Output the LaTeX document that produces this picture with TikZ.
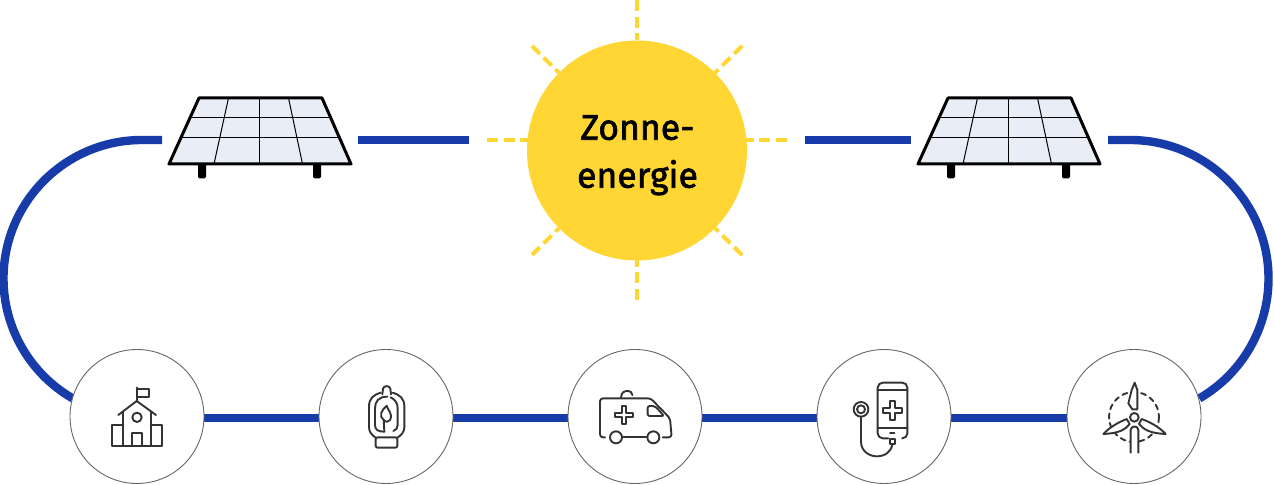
\documentclass[tikz,border=0pt]{standalone}
\usepackage{fontspec}
\setmainfont{Fira Sans}
\newfontfamily\sunfont[RawFeature={embolden=1.8}]{Fira Sans}
\usetikzlibrary{backgrounds}
\definecolor{sunyellow}{HTML}{FFD633}
\definecolor{linkblue}{HTML}{173CAA}
\definecolor{panelfill}{HTML}{E9EDF6}
\definecolor{icongrey}{HTML}{333333}
\tikzset{
  link/.style={draw=linkblue,line width=4.2pt},
  ray/.style={draw=sunyellow,line width=2pt,dash pattern=on 5.5pt off 2.8pt},
  badge/.style={circle,draw=black!60,line width=0.45pt,fill=white,minimum size=67pt,inner sep=0pt,outer sep=0pt},
  icon/.style={draw=icongrey,line width=0.95pt,line join=round,line cap=round},
  panelframe/.style={draw=black,line width=1.5pt,fill=panelfill,line join=round},
  panelgrid/.style={draw=black,line width=0.5pt},
  panelleg/.style={fill=black,rounded corners=0.8pt},
}
\newcommand{\solarpanel}[1]{%
  \begin{scope}[shift={(#1,0)}]
    \fill[panelleg] (29,160) rectangle (37,178.5);
    \fill[panelleg] (144,160) rectangle (152,178.5);
    \draw[panelframe] (30,98) -- (153,98) -- (182,164) -- (0,164) -- cycle;
    \draw[panelgrid] (21.5,117.5) -- (161.5,117.5);
    \draw[panelgrid] (12.5,137.5) -- (170.5,137.5);
    \draw[panelgrid] (90.4,98) -- (90.4,164);
    \draw[panelgrid] (59.5,98) -- (45,164);
    \draw[panelgrid] (119.5,98) -- (133.5,164);
  \end{scope}}
\newcommand{\crossicon}[3]{% centre x, y, half arm
  \draw[icon] (#1-7,#2-#3) -- (#1+7,#2-#3) -- (#1+7,#2-7) -- (#1+#3,#2-7) -- (#1+#3,#2+7) -- (#1+7,#2+7) -- (#1+7,#2+#3) -- (#1-7,#2+#3) -- (#1-7,#2+7) -- (#1-#3,#2+7) -- (#1-#3,#2-7) -- (#1-7,#2-7) -- cycle;}
\begin{document}
\begin{tikzpicture}[x=0.5pt,y=-0.5pt]
\useasboundingbox (0,0) rectangle (1274,485);
% nodes
\node[circle,fill=sunyellow,minimum size=110pt,inner sep=0pt,outer sep=0pt] (sun) at (637,150.5) {};
\node[font=\sunfont\fontsize{17.8}{24}\selectfont,align=center,anchor=base] (sunlabel) at (637.5,187.7) {Zonne-\\energie};
\node[badge] (school) at (137,416.5) {};
\node[badge] (lantern) at (386,416.5) {};
\node[badge] (ambulance) at (635,416.5) {};
\node[badge] (phone) at (884,416.5) {};
\node[badge] (turbine) at (1134,416.5) {};
\solarpanel{169}
\solarpanel{918}
\coordinate (p1w) at (162,140);
\coordinate (p1e) at (358,140);
\coordinate (suninL) at (469,140);
\coordinate (suninR) at (805,140);
\coordinate (p2w) at (911,140);
\coordinate (p2e) at (1108,140);
\coordinate (rayW) at (487,140);
\coordinate (rayE) at (787,140);
\coordinate (rayN) at (637,0);
\coordinate (rayS) at (637,300);
\coordinate (rayNW) at (532,46);
\coordinate (rayNE) at (742,46);
\coordinate (raySW) at (532,255);
\coordinate (raySE) at (742,255);
\begin{pgfonlayer}{background}
  \draw[link] (p1w) -- (142,140) arc (270:120:138.5);
  \draw[link] (p2e) -- (1130,140) arc (-90:60:138.5);
  \draw[link] (p1e) -- (suninL);
  \draw[link] (suninR) -- (p2w);
  \draw[link] ([yshift=-0.75pt]school.east) -- ([yshift=-0.75pt]lantern.west);
  \draw[link] ([yshift=-0.75pt]lantern.east) -- ([yshift=-0.75pt]ambulance.west);
  \draw[link] ([yshift=-0.75pt]ambulance.east) -- ([yshift=-0.75pt]phone.west);
  \draw[link] ([yshift=-0.75pt]phone.east) -- ([yshift=-0.75pt]turbine.west);
  \draw[ray] (rayW) -- (sun.center|-rayW);
  \draw[ray] (rayE) -- (sun.center|-rayE);
  \draw[ray] (rayN) -- (sun);
  \draw[ray] (rayS) -- (sun);
  \draw[ray] (rayNW) -- (sun);
  \draw[ray] (rayNE) -- (sun);
  \draw[ray] (raySW) -- (sun);
  \draw[ray] (raySE) -- (sun);
\end{pgfonlayer}
% school
\begin{scope}[shift={(60,340)},x=0.16667pt,y=-0.16667pt]
  \draw[icon] (230,185) -- (230,143);
  \draw[icon] (230,148) -- (267,148) -- (267,170) -- (232,170);
  \draw[icon] (175,225) -- (230,183) -- (288,225);
  \draw[icon] (190,215) -- (190,318);
  \draw[icon] (272,215) -- (272,318);
  \draw[icon] (190,255) -- (155,255) -- (155,318) -- (307,318) -- (307,255) -- (272,255);
  \draw[icon] (217,318) -- (217,280) -- (245,280) -- (245,318);
  \draw[icon] (231,232) circle[radius=14];
\end{scope}
% lantern
\begin{scope}[shift={(60,340)},x=0.16667pt,y=-0.16667pt]
  \draw[icon] (967,163) -- (969,146) .. controls (970,136) and (990,136) .. (991,146) -- (993,163);
  \draw[icon] (962,158) .. controls (940,165) and (927,175) .. (927,200) -- (927,262) .. controls (927,275) and (935,285) .. (947,293);
  \draw[icon] (998,158) .. controls (1020,165) and (1033,175) .. (1033,200) -- (1033,262) .. controls (1033,275) and (1025,285) .. (1012,293);
  \draw[icon] (982,170) .. controls (955,170) and (945,185) .. (945,205) -- (945,255) .. controls (945,270) and (955,275) .. (973,275);
  \draw[icon] (992,172) .. controls (1005,178) and (1013,190) .. (1013,205) -- (1013,255) .. controls (1013,265) and (1008,270) .. (1000,273);
  \draw[icon] (973,275) -- (971,240) .. controls (955,228) and (965,210) .. (980,197) .. controls (982,210) and (1000,220) .. (990,240) .. controls (985,246) and (978,248) .. (971,240);
  \draw[icon,rounded corners=1pt] (947,292) rectangle (1012,323);
\end{scope}
% ambulance
\begin{scope}[shift={(560,340)},x=0.16667pt,y=-0.16667pt]
  \draw[icon,rounded corners=1.5pt] (135,292) -- (120,292) -- (120,175) -- (272,175) -- (330,235) -- (335,292) -- (308,292);
  \draw[icon] (188,292) -- (262,292);
  \draw[icon] (168,292) circle[radius=18];
  \draw[icon] (280,292) circle[radius=18];
  \draw[icon,rounded corners=1pt] (263,198) -- (285,198) -- (312,228) -- (263,228) -- cycle;
  \crossicon{192}{225}{28}
  \draw[icon] (183,172) .. controls (186,158) and (190,153) .. (198,153) -- (205,153) .. controls (212,153) and (215,158) .. (217,165);
\end{scope}
% phone
\begin{scope}[shift={(560,340)},x=0.16667pt,y=-0.16667pt]
  \draw[icon,rounded corners=2.5pt] (985,295) -- (953,295) -- (953,128) -- (1042,128) -- (1042,295) -- (1028,295);
  \draw[icon] (953,150) -- (1042,150);
  \draw[icon] (953,265) -- (1042,265);
  \draw[icon] (990,278) -- (1003,278);
  \crossicon{997}{212}{29}
  \draw[icon] (903,208) circle[radius=22];
  \draw[icon] (903,208) circle[radius=12];
  \draw[icon] (903,230) -- (903,305) .. controls (903,335) and (930,349) .. (950,349) .. controls (975,349) and (995,335) .. (997,311);
  \draw[icon] (990,296) rectangle (1004,311);
\end{scope}
% turbine
\begin{scope}[shift={(1060,340)},x=0.16667pt,y=-0.16667pt]
  \draw[icon,dash pattern=on 2.6pt off 2.2pt] (222,231) circle[radius=75];
  \draw[icon,fill=white] (224,128) -- (232,150) -- (232,208) -- (217,208) -- (205,190) -- (215,150) -- cycle;
  \draw[icon,fill=white] (130,282) .. controls (150,260) and (180,245) .. (200,237) -- (209,252) .. controls (195,270) and (175,280) .. (130,282) -- cycle;
  \draw[icon,fill=white] (317,282) .. controls (297,260) and (267,245) .. (245,237) -- (237,252) .. controls (252,270) and (272,280) .. (317,282) -- cycle;
  \draw[icon,fill=white] (223,232) circle[radius=13];
  \draw[icon,fill=white] (212,338) -- (212,270) .. controls (212,256) and (235,256) .. (235,270) -- (235,338);
\end{scope}
\end{tikzpicture}
\end{document}
